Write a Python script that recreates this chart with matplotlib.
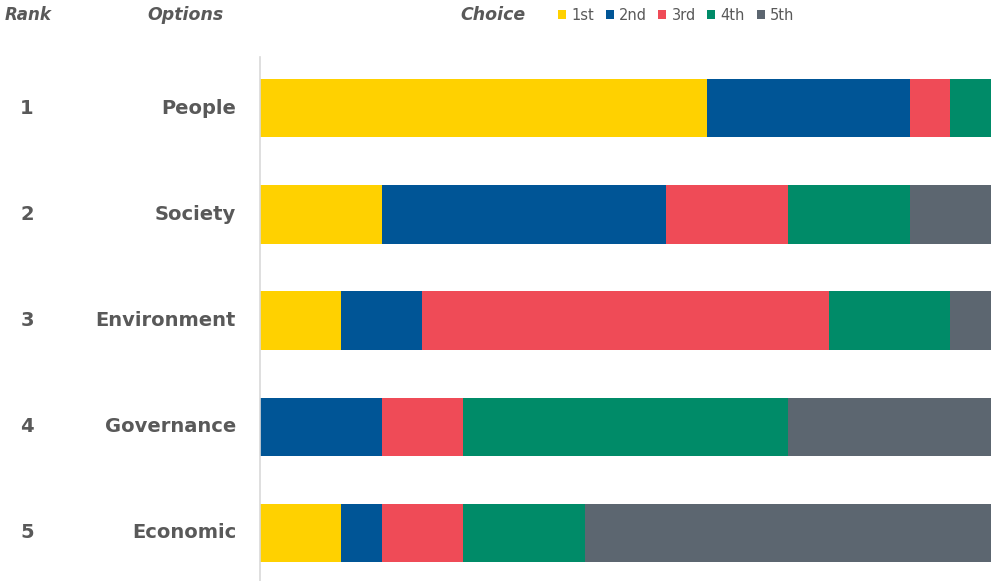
import matplotlib
matplotlib.use("Agg")
import matplotlib.pyplot as plt
import numpy as np

options = ["People", "Society", "Environment", "Governance", "Economic"]
ranks = ["1", "2", "3", "4", "5"]
choices = ["1st", "2nd", "3rd", "4th", "5th"]
first = [11, 3, 2, 0, 2]
second = [5, 7, 2, 3, 1]
third = [1, 3, 10, 2, 2]
fourth = [1, 3, 3, 8, 3]
fifth = [0, 2, 1, 5, 10]
colors = ["#FFD100", "#005596", "#EF4B57", "#008B68", "#5C6670"]

series = [first, second, third, fourth, fifth]
txt = "#595959"
font = "DejaVu Sans"

fig = plt.figure(figsize=(9.91, 5.81), dpi=100)
ax = fig.add_axes([260/991, 0, 1 - 260/991, 1 - 57/581])
y = np.arange(len(options))
left = np.zeros(len(options))
handles = []
for vals, c, lab in zip(series, colors, choices):
    b = ax.barh(y, vals, left=left, height=0.55, color=c, label=lab)
    handles.append(b)
    left += np.array(vals)
ax.set_xlim(0, 18)
ax.set_ylim(4.45, -0.48)
for s in ["top", "right", "bottom"]:
    ax.spines[s].set_visible(False)
ax.spines["left"].set_color("#D9D9D9")
ax.spines["left"].set_linewidth(1.2)
ax.set_xticks([])
ax.set_yticks([])

# row labels
for i, (r, o) in enumerate(zip(ranks, options)):
    ypix = 108 + i * 106.25
    fy = 1 - ypix / 581
    fig.text(27/991, fy, r, ha="center", va="center", fontsize=14, fontweight="bold", color=txt, family=font)
    fig.text(236/991, fy, o, ha="right", va="center", fontsize=14, fontweight="bold", color=txt, family=font)

fy = 1 - 15/581
fig.text(5/991, fy, "Rank", ha="left", va="center", fontsize=12, fontstyle="italic", fontweight="bold", color=txt, family=font)
fig.text(147/991, fy, "Options", ha="left", va="center", fontsize=12.5, fontstyle="italic", fontweight="bold", color=txt, family=font)
fig.text(460/991, fy, "Choice", ha="left", va="center", fontsize=12.5, fontstyle="italic", fontweight="bold", color=txt, family=font)

leg = fig.legend(handles=handles, labels=choices, loc="center left", bbox_to_anchor=(558/991, fy),
                 ncol=5, frameon=False, handlelength=0.55, handleheight=0.55, handletextpad=0.35,
                 columnspacing=0.8, prop={"family": font, "size": 10.5}, borderaxespad=0, borderpad=0)
for t in leg.get_texts():
    t.set_color(txt)

fig.savefig("out.png", dpi=100)
